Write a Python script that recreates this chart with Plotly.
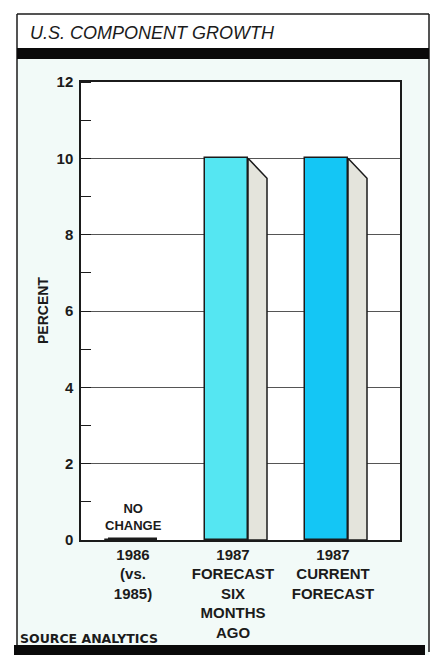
import plotly.graph_objects as go

# ---- data -------------------------------------------------------------
tick_labels = [
    "1986<br>(vs.<br>1985)",
    "1987<br>FORECAST<br>SIX<br>MONTHS<br>AGO",
    "1987<br>CURRENT<br>FORECAST",
]
growth_pct = [0, 10, 10]
y_ticks = [0, 2, 4, 6, 8, 10, 12]

# ---- styling ------------------------------------------------------------
W, H = 434, 659
M_L, M_R, M_T, M_B = 81, 34, 82, 119
X_RANGE = [-0.52, 2.67]
Y_RANGE = [0, 12]
FONT = "Liberation Sans, Arial, sans-serif"
INK = "#1b1b1b"
FRONT_COLORS = ["#1b1b1b", "#55E6F2", "#14C6F5"]
SIDE_COLOR = "#E4E4DC"
TINT = "#F2FAF8"

FRONT_OFFSET = -0.28   # left edge of front face relative to tick
FRONT_WIDTH = 0.43
SIDE_RIGHT = 0.34      # right edge of side face relative to tick
SIDE_DROP = 0.52       # slant of the side face top, in axis units

plot_w = W - M_L - M_R
plot_h = H - M_T - M_B


def px_x(px):
    return (px - M_L) / plot_w


def px_y(py):
    return (H - M_B - py) / plot_h


idx = list(range(len(growth_pct)))
fig = go.Figure()

# front faces of the bars
fig.add_trace(go.Bar(
    x=idx, y=growth_pct,
    width=FRONT_WIDTH, offset=FRONT_OFFSET,
    marker=dict(color=FRONT_COLORS, line=dict(color=INK, width=1.5)),
    hoverinfo="skip", showlegend=False,
))

# shaded side faces for the 3-D effect, and a flat mark for zero values
for i, v in zip(idx, growth_pct):
    if v > 0:
        x0 = i + FRONT_OFFSET + FRONT_WIDTH
        x1 = i + SIDE_RIGHT
        fig.add_trace(go.Scatter(
            x=[x0, x1, x1, x0, x0],
            y=[v, v - SIDE_DROP, 0, 0, v],
            mode="lines", fill="toself", fillcolor=SIDE_COLOR,
            line=dict(color=INK, width=1.5),
            hoverinfo="skip", showlegend=False,
        ))
    else:
        fig.add_trace(go.Scatter(
            x=[i - 0.25, i + 0.24], y=[v, v],
            mode="lines", line=dict(color=INK, width=5),
            hoverinfo="skip", showlegend=False,
        ))
        fig.add_annotation(
            x=i, y=v, text="NO<br>CHANGE", showarrow=False,
            yanchor="bottom", yshift=5,
            font=dict(family=FONT, size=13, color=INK, weight="bold"),
        )

shapes = [
    # tinted panel inside the frame
    dict(type="rect", xref="paper", yref="paper",
         x0=px_x(17), x1=px_x(429), y0=px_y(655), y1=px_y(59),
         fillcolor=TINT, line=dict(width=0), layer="below"),
    # white plotting area
    dict(type="rect", xref="paper", yref="paper",
         x0=0, x1=1, y0=0, y1=1,
         fillcolor="white", line=dict(width=0), layer="below"),
    # frame
    dict(type="line", xref="paper", yref="paper",
         x0=px_x(17), x1=px_x(429), y0=px_y(14), y1=px_y(14),
         line=dict(color=INK, width=1.5)),
    dict(type="line", xref="paper", yref="paper",
         x0=px_x(17), x1=px_x(17), y0=px_y(14), y1=px_y(652),
         line=dict(color=INK, width=1.5)),
    dict(type="line", xref="paper", yref="paper",
         x0=px_x(429), x1=px_x(429), y0=px_y(14), y1=px_y(652),
         line=dict(color=INK, width=1.5)),
    # heavy rules under the title and at the foot
    dict(type="rect", xref="paper", yref="paper",
         x0=px_x(17), x1=px_x(429), y0=px_y(59), y1=px_y(48),
         fillcolor="#0a0a0a", line=dict(width=0)),
    dict(type="rect", xref="paper", yref="paper",
         x0=px_x(14), x1=px_x(425), y0=px_y(655), y1=px_y(645),
         fillcolor="#0a0a0a", line=dict(width=0)),
]

annotations = [
    dict(xref="paper", yref="paper", x=px_x(28), y=px_y(33),
         text="<i>U.S. COMPONENT GROWTH</i>", showarrow=False,
         xanchor="left", yanchor="middle",
         font=dict(family=FONT, size=18, color=INK)),
    dict(xref="paper", yref="paper", x=px_x(43), y=px_y(311),
         text="PERCENT", textangle=-90, showarrow=False,
         xanchor="center", yanchor="middle",
         font=dict(family=FONT, size=14, color=INK, weight="bold")),
    dict(xref="paper", yref="paper", x=px_x(18), y=px_y(638),
         text="SOURCE ANALYTICS", showarrow=False,
         xanchor="left", yanchor="middle",
         font=dict(family="DejaVu Sans, sans-serif", size=12.5,
                   color=INK, weight="bold")),
]

fig.update_layout(
    width=W, height=H,
    margin=dict(l=M_L, r=M_R, t=M_T, b=M_B, pad=0),
    paper_bgcolor="white", plot_bgcolor="rgba(0,0,0,0)",
    shapes=shapes,
    annotations=list(fig.layout.annotations) + annotations,
    bargap=0, showlegend=False,
    font=dict(family=FONT, color=INK),
)

fig.update_xaxes(
    range=X_RANGE, tickvals=idx, ticktext=tick_labels,
    showgrid=False, zeroline=False, ticks="",
    showline=True, linecolor=INK, linewidth=1.5, mirror=True,
    tickfont=dict(family=FONT, size=15, color=INK, weight="bold"),
    fixedrange=True,
)
fig.update_yaxes(
    range=Y_RANGE, tickvals=y_ticks,
    showgrid=True, gridcolor="#555555", gridwidth=1,
    zeroline=False, ticks="",
    showline=True, linecolor=INK, linewidth=1.5, mirror=True,
    ticklabelstandoff=3,
    tickfont=dict(family=FONT, size=15, color=INK, weight="bold"),
    minor=dict(dtick=1, tick0=0, ticks="inside", ticklen=10,
               tickcolor=INK, tickwidth=1, showgrid=False),
    fixedrange=True,
)

fig.write_html("out.html")
